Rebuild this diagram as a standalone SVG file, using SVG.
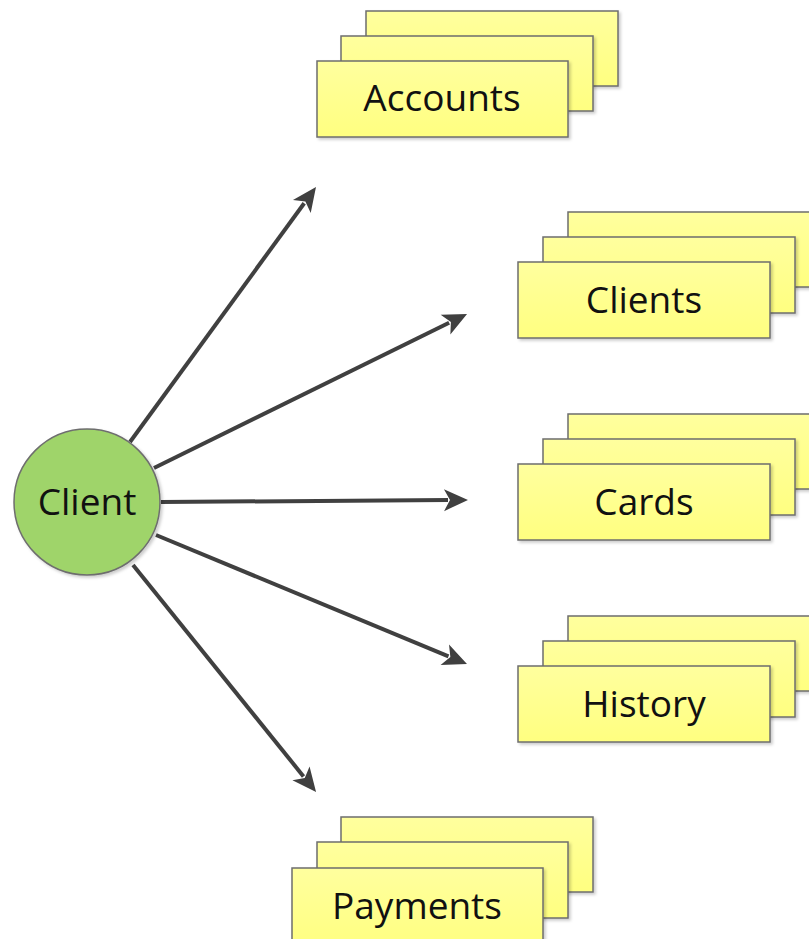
<svg xmlns="http://www.w3.org/2000/svg" width="809" height="939" viewBox="0 0 809 939">
  <defs>
    <linearGradient id="note" x1="0" y1="0" x2="0" y2="1">
      <stop offset="0" stop-color="#FFFF9E"/>
      <stop offset="1" stop-color="#FFFF80"/>
    </linearGradient>
    <filter id="shadow" x="-10%" y="-10%" width="125%" height="130%">
      <feDropShadow dx="2" dy="2" stdDeviation="1.5" flood-color="#000" flood-opacity="0.2"/>
    </filter>
    <marker id="arrow" markerUnits="userSpaceOnUse" markerWidth="26" markerHeight="22" refX="4" refY="11" orient="auto" overflow="visible">
      <path d="M0,0 L24,11 L0,22 L6,11 Z" fill="#404040"/>
    </marker>
    <style>
      .card { fill: url(#note); stroke: #6E6E6E; stroke-width: 1.5; filter: url(#shadow); }
      .label { font-family: "Open Sans", "Noto Sans", sans-serif; font-size: 37px; fill: #111; text-anchor: middle; }
      .link { stroke: #404040; stroke-width: 4; fill: none; marker-end: url(#arrow); }
    </style>
  </defs>
  <rect width="809" height="939" fill="#fff"/>

  <!-- lines stop short of the tip; the marker adds the remaining 20px -->
  <g id="connectors">
    <line class="link" x1="130" y1="442" x2="304.2" y2="203.2"/>
    <line class="link" x1="154" y1="468" x2="449.1" y2="322.8"/>
    <line class="link" x1="161" y1="502" x2="448" y2="500.1"/>
    <line class="link" x1="156" y1="535" x2="448.5" y2="656.3"/>
    <line class="link" x1="133" y1="565" x2="303.5" y2="776.4"/>
  </g>

  <g id="client">
    <circle cx="87" cy="502" r="73" fill="#9FD46A" stroke="#6E6E6E" stroke-width="1.5" filter="url(#shadow)"/>
    <text class="label" x="87" y="515">Client</text>
  </g>

  <g id="accounts">
    <rect class="card" x="366" y="11" width="252" height="75"/>
    <rect class="card" x="341" y="36" width="252" height="75"/>
    <rect class="card" x="317" y="61" width="251" height="76"/>
    <text class="label" x="442" y="111">Accounts</text>
  </g>

  <g id="clients">
    <rect class="card" x="568" y="212" width="252" height="75"/>
    <rect class="card" x="543" y="237" width="252" height="76"/>
    <rect class="card" x="518" y="262" width="252" height="76"/>
    <text class="label" x="644" y="313">Clients</text>
  </g>

  <g id="cards">
    <rect class="card" x="568" y="414" width="252" height="75"/>
    <rect class="card" x="543" y="439" width="252" height="76"/>
    <rect class="card" x="518" y="464" width="252" height="76"/>
    <text class="label" x="644" y="515">Cards</text>
  </g>

  <g id="history">
    <rect class="card" x="568" y="616" width="252" height="75"/>
    <rect class="card" x="543" y="641" width="252" height="76"/>
    <rect class="card" x="518" y="666" width="252" height="76"/>
    <text class="label" x="644" y="717">History</text>
  </g>

  <g id="payments">
    <rect class="card" x="341" y="817" width="252" height="75"/>
    <rect class="card" x="317" y="842" width="251" height="76"/>
    <rect class="card" x="292" y="868" width="251" height="80"/>
    <text class="label" x="417" y="919">Payments</text>
  </g>
</svg>
